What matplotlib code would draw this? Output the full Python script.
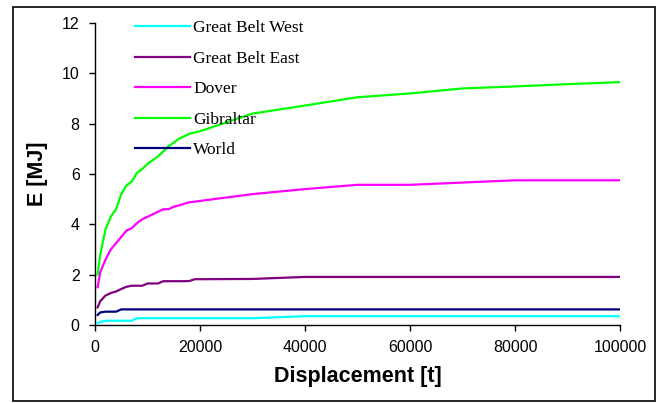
import matplotlib
matplotlib.use("Agg")
import matplotlib.pyplot as plt
from matplotlib.patches import Rectangle

# displacement [t]
x = [500, 1000, 2000, 3000, 4000, 5000, 6000, 7000, 8000, 9000, 10000,
     11000, 12000, 13000, 14000, 15000, 16000, 17000, 18000, 19000, 20000,
     30000, 40000, 50000, 60000, 70000, 80000, 90000, 100000]

# energy [MJ] per location
great_belt_west = [0.08, 0.12, 0.17, 0.17, 0.17, 0.17, 0.17, 0.17, 0.27, 0.27, 0.27,
                   0.27, 0.27, 0.27, 0.27, 0.27, 0.27, 0.27, 0.27, 0.27, 0.27,
                   0.27, 0.35, 0.35, 0.35, 0.35, 0.35, 0.35, 0.35]
great_belt_east = [0.70, 0.95, 1.17, 1.27, 1.33, 1.43, 1.52, 1.56, 1.56, 1.56, 1.65,
                   1.65, 1.65, 1.74, 1.74, 1.74, 1.74, 1.74, 1.75, 1.82, 1.82,
                   1.83, 1.91, 1.91, 1.91, 1.91, 1.91, 1.91, 1.91]
dover = [1.5, 2.1, 2.6, 3.0, 3.25, 3.5, 3.75, 3.85, 4.05, 4.2, 4.3,
         4.4, 4.5, 4.6, 4.6, 4.7, 4.75, 4.82, 4.88, 4.9, 4.93,
         5.2, 5.4, 5.57, 5.57, 5.66, 5.75, 5.75, 5.75]
gibraltar = [2.0, 2.8, 3.8, 4.3, 4.6, 5.2, 5.55, 5.7, 6.05, 6.2, 6.4,
             6.55, 6.7, 6.9, 7.1, 7.25, 7.4, 7.5, 7.6, 7.65, 7.7,
             8.4, 8.72, 9.05, 9.2, 9.4, 9.48, 9.57, 9.65]
world = [0.40, 0.50, 0.53, 0.53, 0.53, 0.62, 0.62, 0.62, 0.62, 0.62, 0.62,
         0.62, 0.62, 0.62, 0.62, 0.62, 0.62, 0.62, 0.62, 0.62, 0.62,
         0.62, 0.62, 0.62, 0.62, 0.62, 0.62, 0.62, 0.62]

W, H = 662, 403
fig = plt.figure(figsize=(W / 100, H / 100), dpi=100)
ax = fig.add_axes([95 / W, 1 - 325 / H, 525 / W, 302 / H])

lw = 1.6
ax.plot(x, great_belt_west, color="#00FFFF", lw=lw, label="Great Belt West")
ax.plot(x, great_belt_east, color="#800080", lw=lw, label="Great Belt East")
ax.plot(x, dover, color="#FF00FF", lw=lw, label="Dover")
ax.plot(x, gibraltar, color="#00FF00", lw=lw, label="Gibraltar")
ax.plot(x, world, color="#000080", lw=lw, label="World")

ax.set_xlim(0, 100000)
ax.set_ylim(0, 12)
ax.set_xticks(range(0, 100001, 20000))
ax.set_yticks(range(0, 13, 2))

for s in ["top", "right"]:
    ax.spines[s].set_visible(False)
for s in ["left", "bottom"]:
    ax.spines[s].set_linewidth(1.0)
    ax.spines[s].set_color("black")

ax.tick_params(direction="out", length=4, width=1.0, labelsize=11.5, pad=7)
for lab in ax.get_xticklabels() + ax.get_yticklabels():
    lab.set_fontfamily("Liberation Sans")

ax.set_xlabel("Displacement [t]", fontsize=15.5, fontweight="bold",
              fontfamily="Liberation Sans", labelpad=8)
ax.set_ylabel("E [MJ]", fontsize=15.5, fontweight="bold",
              fontfamily="Liberation Sans", labelpad=10)

ax.legend(loc="upper left", bbox_to_anchor=(135 / W, 1 - 20 / H),
          bbox_transform=fig.transFigure, frameon=False,
          prop={"family": "Liberation Serif", "size": 12.5},
          handlelength=3.15, handletextpad=0.2, labelspacing=0.83,
          borderpad=0, borderaxespad=0)

# outer chart border
fig.patches.append(Rectangle((13 / W, 1 - 401 / H), 642 / W, 394 / H,
                             transform=fig.transFigure, fill=False,
                             edgecolor="black", lw=1.2))

fig.savefig("out.png", dpi=100)
